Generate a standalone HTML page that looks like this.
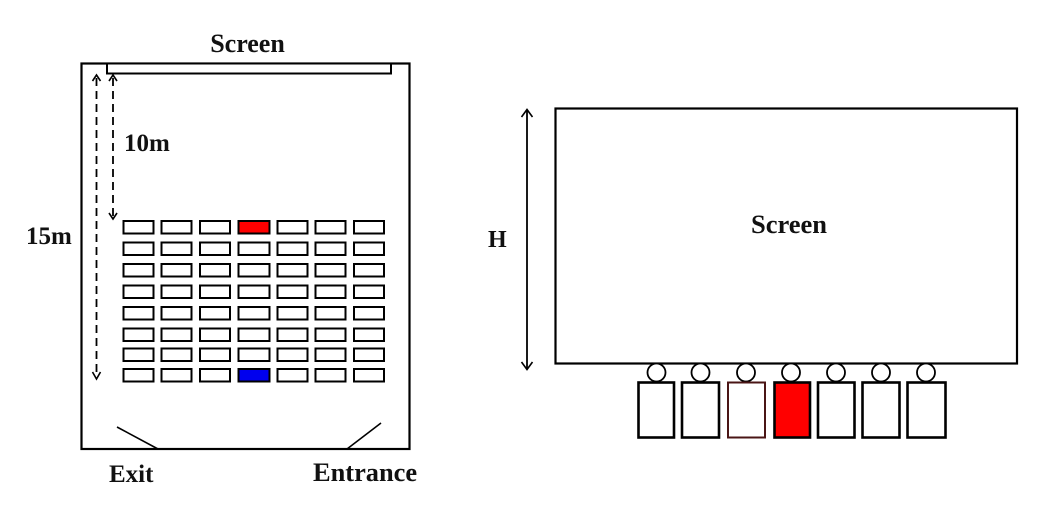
<!DOCTYPE html>
<html>
<head>
<meta charset="utf-8">
<style>
  html, body { margin:0; padding:0; background:#fff; }
  body { width:1041px; height:521px; overflow:hidden; }
  svg { display:block; }
  text { font-family: "Liberation Serif", "Times New Roman", serif; font-weight:bold; fill:#111; }
</style>
</head>
<body>
<svg width="1041" height="521" viewBox="0 0 1041 521" xmlns="http://www.w3.org/2000/svg">
  <!-- LEFT PANEL -->
  <text x="247.5" y="52" font-size="26" text-anchor="middle">Screen</text>
  <rect x="81.5" y="63.5" width="328" height="385.5" fill="none" stroke="#000" stroke-width="2.2"/>
  <rect x="107" y="63.5" width="284" height="10" fill="#fff" stroke="#000" stroke-width="2"/>

  <!-- dashed 15m -->
  <line x1="96.5" y1="78" x2="96.5" y2="376" stroke="#000" stroke-width="1.8" stroke-dasharray="8,5"/>
  <polyline points="92.5,81 96.5,75 100.5,81" fill="none" stroke="#000" stroke-width="1.6"/>
  <polyline points="92.5,372 96.5,379 100.5,372" fill="none" stroke="#000" stroke-width="1.6"/>
  <!-- dashed 10m -->
  <line x1="113" y1="78" x2="113" y2="216" stroke="#000" stroke-width="1.8" stroke-dasharray="8,5"/>
  <polyline points="109,81 113,75 117,81" fill="none" stroke="#000" stroke-width="1.6"/>
  <polyline points="109,213 113,219 117,213" fill="none" stroke="#000" stroke-width="1.6"/>

  <text x="124" y="151" font-size="25">10m</text>
  <text x="26" y="244" font-size="25">15m</text>

  <!-- seats -->
  <g stroke="#000" stroke-width="2" fill="#fff">
    <rect x="123.5" y="221" width="30" height="12.5"/><rect x="161.5" y="221" width="30" height="12.5"/><rect x="200" y="221" width="30" height="12.5"/><rect x="238.5" y="221" width="31" height="12.5" fill="#f00"/><rect x="277.5" y="221" width="30" height="12.5"/><rect x="315.5" y="221" width="30" height="12.5"/><rect x="354" y="221" width="30" height="12.5"/>
    <rect x="123.5" y="242.5" width="30" height="12.5"/><rect x="161.5" y="242.5" width="30" height="12.5"/><rect x="200" y="242.5" width="30" height="12.5"/><rect x="238.5" y="242.5" width="31" height="12.5"/><rect x="277.5" y="242.5" width="30" height="12.5"/><rect x="315.5" y="242.5" width="30" height="12.5"/><rect x="354" y="242.5" width="30" height="12.5"/>
    <rect x="123.5" y="264" width="30" height="12.5"/><rect x="161.5" y="264" width="30" height="12.5"/><rect x="200" y="264" width="30" height="12.5"/><rect x="238.5" y="264" width="31" height="12.5"/><rect x="277.5" y="264" width="30" height="12.5"/><rect x="315.5" y="264" width="30" height="12.5"/><rect x="354" y="264" width="30" height="12.5"/>
    <rect x="123.5" y="285.5" width="30" height="12.5"/><rect x="161.5" y="285.5" width="30" height="12.5"/><rect x="200" y="285.5" width="30" height="12.5"/><rect x="238.5" y="285.5" width="31" height="12.5"/><rect x="277.5" y="285.5" width="30" height="12.5"/><rect x="315.5" y="285.5" width="30" height="12.5"/><rect x="354" y="285.5" width="30" height="12.5"/>
    <rect x="123.5" y="307" width="30" height="12.5"/><rect x="161.5" y="307" width="30" height="12.5"/><rect x="200" y="307" width="30" height="12.5"/><rect x="238.5" y="307" width="31" height="12.5"/><rect x="277.5" y="307" width="30" height="12.5"/><rect x="315.5" y="307" width="30" height="12.5"/><rect x="354" y="307" width="30" height="12.5"/>
    <rect x="123.5" y="328.5" width="30" height="12.5"/><rect x="161.5" y="328.5" width="30" height="12.5"/><rect x="200" y="328.5" width="30" height="12.5"/><rect x="238.5" y="328.5" width="31" height="12.5"/><rect x="277.5" y="328.5" width="30" height="12.5"/><rect x="315.5" y="328.5" width="30" height="12.5"/><rect x="354" y="328.5" width="30" height="12.5"/>
    <rect x="123.5" y="348.5" width="30" height="12.5"/><rect x="161.5" y="348.5" width="30" height="12.5"/><rect x="200" y="348.5" width="30" height="12.5"/><rect x="238.5" y="348.5" width="31" height="12.5"/><rect x="277.5" y="348.5" width="30" height="12.5"/><rect x="315.5" y="348.5" width="30" height="12.5"/><rect x="354" y="348.5" width="30" height="12.5"/>
    <rect x="123.5" y="369" width="30" height="12.5"/><rect x="161.5" y="369" width="30" height="12.5"/><rect x="200" y="369" width="30" height="12.5"/><rect x="238.5" y="369" width="31" height="12.5" fill="#0000ee"/><rect x="277.5" y="369" width="30" height="12.5"/><rect x="315.5" y="369" width="30" height="12.5"/><rect x="354" y="369" width="30" height="12.5"/>
  </g>

  <!-- doors -->
  <line x1="117" y1="427" x2="158" y2="449" stroke="#000" stroke-width="1.6"/>
  <line x1="381" y1="423" x2="347" y2="449" stroke="#000" stroke-width="1.6"/>

  <text x="109" y="482" font-size="25">Exit</text>
  <text x="313" y="481" font-size="26.4">Entrance</text>

  <!-- RIGHT PANEL -->
  <rect x="555.5" y="108.5" width="461.5" height="255" fill="#fff" stroke="#000" stroke-width="2.2"/>
  <text x="789" y="233" font-size="26.5" text-anchor="middle">Screen</text>

  <!-- H arrow -->
  <line x1="527" y1="110" x2="527" y2="369" stroke="#000" stroke-width="1.8"/>
  <polyline points="521.5,117 527,109.5 532.5,117" fill="none" stroke="#000" stroke-width="1.6"/>
  <polyline points="521.5,362 527,369.5 532.5,362" fill="none" stroke="#000" stroke-width="1.6"/>
  <text x="488" y="247" font-size="24">H</text>

  <!-- heads -->
  <g fill="#fff" stroke="#000" stroke-width="1.8">
    <circle cx="656.5" cy="372.5" r="9"/>
    <circle cx="700.5" cy="372.5" r="9"/>
    <circle cx="746" cy="372.5" r="9"/>
    <circle cx="791" cy="372.5" r="9"/>
    <circle cx="836" cy="372.5" r="9"/>
    <circle cx="881" cy="372.5" r="9"/>
    <circle cx="926" cy="372.5" r="9"/>
  </g>
  <!-- bodies -->
  <g stroke="#000" stroke-width="2.6" fill="#fff">
    <rect x="638.5" y="382.5" width="35.5" height="55"/>
    <rect x="682" y="382.5" width="37" height="55"/>
    <rect x="728" y="382.5" width="37" height="55" stroke="#4a1515" stroke-width="2"/>
    <rect x="774.5" y="382.5" width="35.5" height="55" fill="#f00"/>
    <rect x="818" y="382.5" width="36.5" height="55"/>
    <rect x="862.5" y="382.5" width="37" height="55"/>
    <rect x="907.5" y="382.5" width="38" height="55"/>
  </g>
</svg>
</body>
</html>
